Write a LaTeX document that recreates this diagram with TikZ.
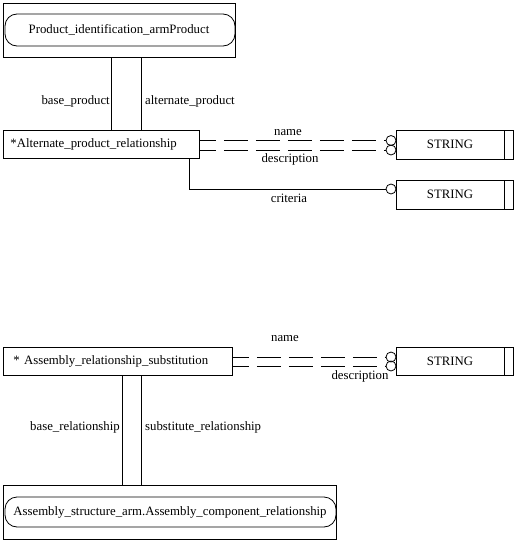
\documentclass[tikz,border=0pt]{standalone}
\usepackage{fontspec}
\setmainfont{Liberation Serif}
\begin{document}
\begin{tikzpicture}[x=1pt,y=-1pt,
  every node/.style={font=\fontsize{12.8}{14}\selectfont},
  ent/.style={draw,line width=0.8pt,inner sep=0pt,anchor=north west},
  lbl/.style={inner sep=0pt,anchor=base},
  ring/.style={circle,draw,line width=0.8pt,minimum size=10pt,inner sep=0pt},
  ln/.style={line width=0.8pt},
  dl/.style={line width=0.8pt,dash pattern=on 24pt off 8pt,dash phase=8pt}]
\useasboundingbox (0,0) rectangle (520,546);
% top entity
\node[ent,minimum width=232pt,minimum height=54pt] (b1) at (3,3) {};
\draw[ln,rounded corners=12pt] (5,14) rectangle (235,46);
\node (t1) at (119,30) {Product\_identification\_armProduct};
% alternate product relationship
\node[ent,minimum width=196pt,minimum height=28pt,text width=182pt,inner xsep=7pt,align=left] (b2) at (3,130) {*Alternate\_product\_relationship};
% STRING boxes
\node[ent,minimum width=117pt,minimum height=29pt] (s1) at (396,130) {};
\draw[ln] (504,130) -- (504,159);
\node at (450,144.5) {STRING};
\node[ent,minimum width=117pt,minimum height=29pt] (s2) at (396,180) {};
\draw[ln] (504,180) -- (504,209);
\node at (450,194.5) {STRING};
% rings
\node[ring] (c1) at (391,140.5) {};
\node[ring] (c2) at (391,150) {};
\node[ring] (c3) at (391,189) {};
\draw[dl] (b2.east |- c1) -- (c1.west);
\draw[dl] (b2.east |- c2) -- (c2.west);
\coordinate (k1) at (189,189);
\draw[ln] (b2.south -| k1) -- (k1) -- (c3.west);
\node[lbl] at (288,135) {name};
\node[lbl] at (290,162) {description};
\node[lbl] at (289,202) {criteria};
% top links
\coordinate (x1) at (111,0);
\coordinate (x2) at (141,0);
\draw[ln] (b1.south -| x1) -- (b2.north -| x1);
\draw[ln] (b1.south -| x2) -- (b2.north -| x2);
\node[lbl,anchor=base east] at (110,104) {base\_product};
\node[lbl,anchor=base west] at (145,104) {alternate\_product};
% assembly relationship substitution
\node[ent,minimum width=229pt,minimum height=28pt,text width=209pt,inner xsep=10pt,align=left] (b3) at (3,347) {* Assembly\_relationship\_substitution};
\node[ent,minimum width=117pt,minimum height=28pt] (s3) at (396,347) {};
\draw[ln] (504,347) -- (504,375);
\node at (450,361) {STRING};
\node[ring] (c4) at (391,357) {};
\node[ring] (c5) at (391,366) {};
\draw[dl] (b3.east |- c4) -- (c4.west);
\draw[dl] (b3.east |- c5) -- (c5.west);
\node[lbl] at (285,341) {name};
\node[lbl] at (360,379) {description};
% bottom entity
\node[ent,minimum width=333pt,minimum height=54pt] (b4) at (3,485) {};
\draw[ln,rounded corners=12pt] (5,497) rectangle (336,527);
\node (t4) at (170,512) {Assembly\_structure\_arm.Assembly\_component\_relationship};
\coordinate (x3) at (122,0);
\draw[ln] (b3.south -| x3) -- (b4.north -| x3);
\draw[ln] (b3.south -| x2) -- (b4.north -| x2);
\node[lbl,anchor=base east] at (120,430) {base\_relationship};
\node[lbl,anchor=base west] at (145,430) {substitute\_relationship};
\end{tikzpicture}
\end{document}
